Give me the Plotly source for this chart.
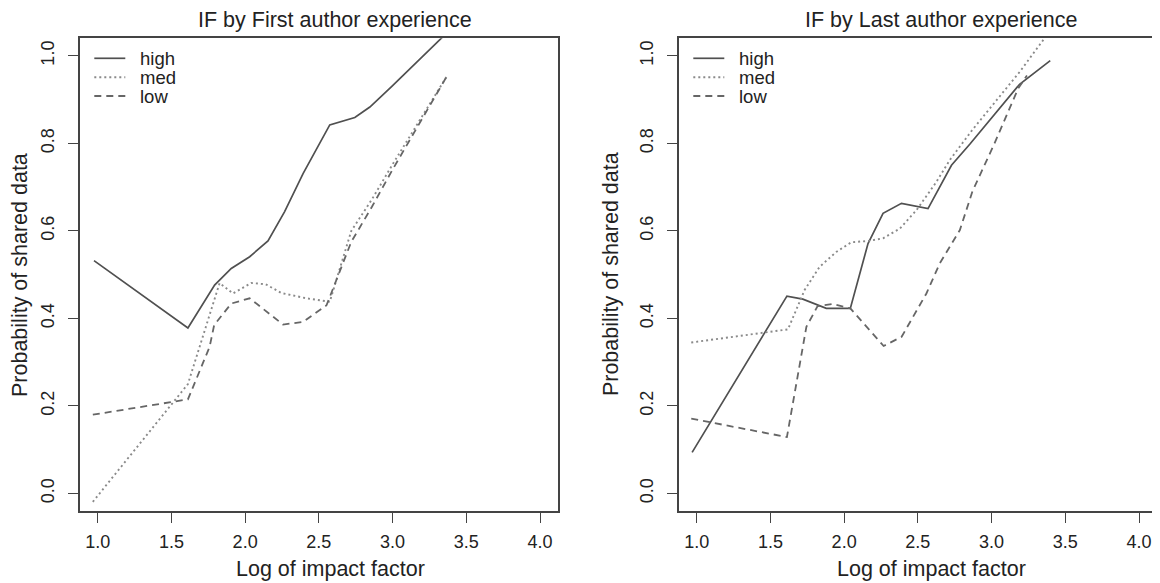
import plotly.graph_objects as go

# ---------------- data ----------------
titles = ["IF by First author experience", "IF by Last author experience"]
series_names = ["high", "med", "low"]

# Left panel: First author experience
first_high_x = [0.975, 1.612, 1.793, 1.906, 2.031, 2.155, 2.268, 2.393, 2.574, 2.744, 2.846, 2.995, 3.37]
first_high_y = [0.532, 0.378, 0.476, 0.514, 0.541, 0.577, 0.644, 0.731, 0.842, 0.859, 0.883, 0.930, 1.053]

first_med_x = [0.967, 1.612, 1.827, 1.917, 2.042, 2.14, 2.246, 2.416, 2.574, 2.72, 2.86, 3.0, 3.366]
first_med_y = [-0.019, 0.250, 0.481, 0.457, 0.481, 0.478, 0.458, 0.446, 0.438, 0.600, 0.672, 0.752, 0.952]

first_low_x = [0.967, 1.612, 1.759, 1.79, 1.906, 2.031, 2.257, 2.393, 2.552, 2.72, 2.86, 3.0, 3.366]
first_low_y = [0.180, 0.215, 0.335, 0.385, 0.434, 0.446, 0.386, 0.392, 0.430, 0.575, 0.655, 0.740, 0.952]

# Right panel: Last author experience
last_high_x = [0.969, 1.612, 1.72, 1.879, 2.042, 2.162, 2.264, 2.389, 2.569, 2.728, 2.852, 3.19, 3.398]
last_high_y = [0.094, 0.451, 0.444, 0.423, 0.423, 0.571, 0.640, 0.663, 0.651, 0.750, 0.798, 0.935, 0.989]

last_med_x = [0.963, 1.619, 1.732, 1.834, 1.947, 2.049, 2.162, 2.264, 2.377, 2.49, 2.626, 2.717, 2.87, 3.19, 3.37]
last_med_y = [0.345, 0.375, 0.465, 0.518, 0.552, 0.574, 0.577, 0.583, 0.605, 0.647, 0.712, 0.762, 0.831, 0.963, 1.045]

last_low_x = [0.963, 1.612, 1.744, 1.82, 1.92, 2.042, 2.268, 2.39, 2.558, 2.649, 2.785, 2.87, 3.02, 3.18, 3.24]
last_low_y = [0.171, 0.129, 0.381, 0.428, 0.433, 0.423, 0.337, 0.358, 0.457, 0.526, 0.602, 0.690, 0.800, 0.925, 0.955]

x_tick_vals = [1.0, 1.5, 2.0, 2.5, 3.0, 3.5, 4.0]
x_tick_text = ["1.0", "1.5", "2.0", "2.5", "3.0", "3.5", "4.0"]
y_tick_vals = [0.0, 0.2, 0.4, 0.6, 0.8, 1.0]
y_tick_text = ["0.0", "0.2", "0.4", "0.6", "0.8", "1.0"]
x_label = "Log of impact factor"
y_label = "Probability of shared data"

# ---------------- styling / layout ----------------
# The page body has an 8px margin, so the figure is drawn 8px smaller and
# every target pixel position below is shifted by that offset.
OFF = 8
W, H = 1160 - OFF, 583 - OFF
FONT = "Liberation Sans, Arial, Helvetica, sans-serif"
TXT = "#222222"
AXC = "#444444"
styles = {
    "high": dict(color="#505050", width=1.7, dash="solid"),
    "med": dict(color="#8a8a8a", width=1.9, dash="2px,3px"),
    "low": dict(color="#666666", width=1.8, dash="7px,5px"),
}


def px(v):
    return (v - OFF) / W


def py(v):
    return 1 - (v - OFF) / H


fig = go.Figure()

panels = [
    ("x", "y", [(first_high_x, first_high_y), (first_med_x, first_med_y), (first_low_x, first_low_y)]),
    ("x2", "y2", [(last_high_x, last_high_y), (last_med_x, last_med_y), (last_low_x, last_low_y)]),
]
for xa, ya, data in panels:
    for name, (xs, ys) in zip(series_names, data):
        fig.add_trace(go.Scatter(
            x=xs, y=ys, mode="lines", name=name, xaxis=xa, yaxis=ya,
            line=styles[name], hoverinfo="skip", showlegend=False,
        ))

y_dom = [py(511), py(38.3)]
left_dom = [px(80), px(557.7)]
right_dom = [px(679), px(1156.7)]

axis_common = dict(
    showline=True, mirror=True, linecolor=AXC, linewidth=1.5,
    ticks="outside", ticklen=10, tickwidth=1.4, tickcolor=AXC,
    showgrid=False, zeroline=False,
    tickfont=dict(family=FONT, size=18, color=TXT),
)
xa_common = dict(axis_common, range=[0.88, 4.12], tickvals=x_tick_vals, ticktext=x_tick_text,
                 ticklabelstandoff=4)
ya_common = dict(axis_common, range=[-0.04, 1.04], tickvals=y_tick_vals, ticktext=y_tick_text,
                 tickangle=-90, ticklabelstandoff=7)

fig.update_layout(
    width=W, height=H,
    margin=dict(l=0, r=0, t=0, b=0),
    paper_bgcolor="white", plot_bgcolor="white",
    font=dict(family=FONT, color=TXT),
    xaxis=dict(xa_common, domain=left_dom, anchor="y"),
    yaxis=dict(ya_common, domain=y_dom, anchor="x"),
    xaxis2=dict(xa_common, domain=right_dom, anchor="y2"),
    yaxis2=dict(ya_common, domain=y_dom, anchor="x2"),
    showlegend=False,
)

ann = []
shapes = []
for cx, t in zip([334.6, 941.4], titles):
    ann.append(dict(text=t, x=px(cx), y=py(20), xref="paper", yref="paper",
                    showarrow=False, xanchor="center", yanchor="middle",
                    font=dict(family=FONT, size=21.5, color=TXT)))
for cx in [330, 931]:
    ann.append(dict(text=x_label, x=px(cx), y=py(569), xref="paper", yref="paper",
                    showarrow=False, xanchor="center", yanchor="middle",
                    font=dict(family=FONT, size=21.5, color=TXT)))
for cx in [19.4, 610.5]:
    ann.append(dict(text=y_label, x=px(cx), y=py(274.6), xref="paper", yref="paper",
                    showarrow=False, xanchor="center", yanchor="middle", textangle=-90,
                    font=dict(family=FONT, size=21.5, color=TXT)))

# legend keys (one per panel), same styles as the series
legend_rows = [58.3, 77.3, 96.0]
for lx in [94.3, 693.3]:
    for name, ry in zip(series_names, legend_rows):
        st = styles[name]
        shapes.append(dict(type="line", xref="paper", yref="paper",
                           x0=px(lx), x1=px(lx + 31), y0=py(ry), y1=py(ry),
                           line=dict(color=st["color"], width=st["width"], dash=st["dash"])))
        ann.append(dict(text=name, x=px(lx + 44), y=py(ry), xref="paper", yref="paper",
                        showarrow=False, xanchor="left", yanchor="middle",
                        font=dict(family=FONT, size=18.5, color=TXT)))

fig.update_layout(annotations=ann, shapes=shapes)

fig.write_html("out.html")
